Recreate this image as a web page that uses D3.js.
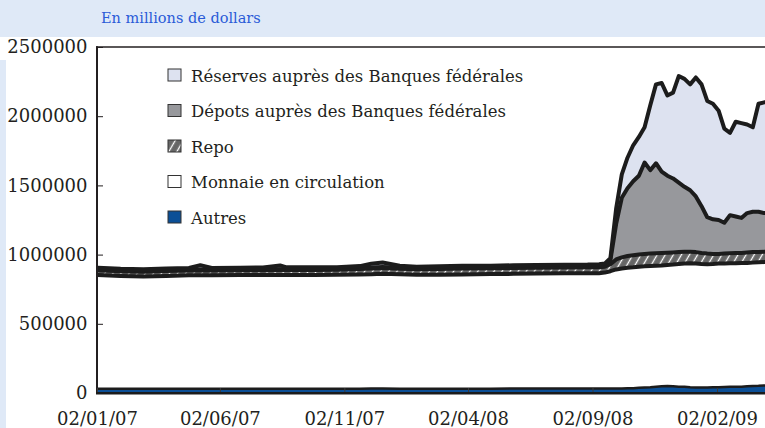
<!DOCTYPE html>
<html>
<head>
<meta charset="utf-8">
<script src="https://cdn.jsdelivr.net/npm/d3@7"></script>
<style>
body { margin: 0; background: #dfe9f7; }
svg { display: block; font-family: "DejaVu Serif", serif; }
</style>
</head>
<body>
<svg id="chart" width="765" height="428"></svg>
<script>

// weekly / monthly observations, values in thousands of millions of dollars
const dates = [
  "2007-01-03","2007-01-31","2007-02-28","2007-03-28","2007-04-25","2007-05-09","2007-05-23",
  "2007-06-27","2007-07-25","2007-08-15","2007-08-22","2007-09-26","2007-10-24","2007-11-21",
  "2007-12-05","2007-12-19","2008-01-09","2008-01-30","2008-02-27","2008-03-26","2008-04-30",
  "2008-05-28","2008-06-25","2008-07-30","2008-08-27","2008-09-10",
  "2008-09-17","2008-09-24","2008-10-01","2008-10-08","2008-10-15","2008-10-22","2008-10-29",
  "2008-11-05","2008-11-12","2008-11-19","2008-11-26","2008-12-03","2008-12-10","2008-12-17",
  "2008-12-24","2008-12-31","2009-01-07","2009-01-14","2009-01-21","2009-01-28","2009-02-04",
  "2009-02-11","2009-02-18","2009-02-25","2009-03-04","2009-03-11","2009-03-18","2009-03-25",
  "2009-04-01","2009-04-08"
];

const autres = [
  30,30,30,30,30,31,31,31,31,31,31,31,31,31,32,32,31,31,31,31,31,32,32,32,32,32,
  32,32,32,33,35,35,38,40,42,45,48,50,48,45,45,42,40,40,40,42,42,44,45,45,46,48,50,52,55,55
];

const monnaie = [
  822,816,812,816,820,820,820,821,821,822,822,822,823,825,826,830,827,823,824,826,828,829,831,833,834,834,
  838,848,861,867,870,873,874,875,876,875,874,875,880,887,891,896,896,892,890,890,893,891,892,893,894,892,892,892,891,893
];

const repo = [
  35,34,34,35,35,35,35,35,35,35,35,36,37,40,42,42,40,40,41,42,42,42,42,42,42,42,
  42,50,72,80,85,87,88,90,90,90,90,89,88,86,84,82,82,80,78,73,70,73,73,74,72,75,76,74,74,72
];

const depots = [
  6,6,7,6,7,7,6,6,7,6,7,6,6,7,6,7,7,6,7,6,6,7,6,7,6,7,
  8,30,255,430,490,535,570,660,602,650,588,556,534,502,470,445,402,338,262,250,245,222,275,263,253,285,292,292,280,280
];

const reserves = [
  12,11,12,12,12,30,12,12,13,28,14,13,12,14,28,32,14,12,13,14,12,13,14,12,14,16,
  15,15,110,170,220,260,280,255,470,570,640,580,620,770,780,765,860,880,840,835,790,680,595,685,685,640,610,780,800,800
];

const xTicks = ["2007-01-02","2007-06-02","2007-11-02","2008-04-02","2008-09-02","2009-02-02"];
const yTicks = [0, 500000, 1000000, 1500000, 2000000, 2500000];

const keys = ["autres", "monnaie", "repo", "depots", "reserves"];
const legendLabels = [
  "Réserves auprès des Banques fédérales",
  "Dépots auprès des Banques fédérales",
  "Repo",
  "Monnaie en circulation",
  "Autres"
];
const legendKeys = ["reserves", "depots", "repo", "monnaie", "autres"];

const fills = {
  autres: "#0b4f96",
  monnaie: "#ffffff",
  repo: "url(#hatch)",
  depots: "#97989c",
  reserves: "#dde2f0"
};

const serif = "'DejaVu Serif', serif";

const parse = d3.utcParse("%Y-%m-%d");

const table = dates.map((d, i) => ({
  date: parse(d),
  autres: autres[i] * 1000,
  monnaie: monnaie[i] * 1000,
  repo: repo[i] * 1000,
  depots: depots[i] * 1000,
  reserves: reserves[i] * 1000
}));

const svg = d3.select("#chart");

// background panels
svg.append("rect").attr("x", 0).attr("y", 0).attr("width", 765).attr("height", 428).attr("fill", "#dfe9f7");
svg.append("rect").attr("x", 0).attr("y", 37).attr("width", 765).attr("height", 391).attr("fill", "#ffffff");
svg.append("rect").attr("x", 0).attr("y", 60).attr("width", 6).attr("height", 368).attr("fill", "#dfe9f7");

svg.append("text")
  .attr("x", 101).attr("y", 23)
  .attr("font-size", 14.5)
  .attr("font-family", serif)
  .attr("fill", "#2a5bd7")
  .text("En millions de dollars");

const defs = svg.append("defs");
const pat = defs.append("pattern")
  .attr("id", "hatch")
  .attr("patternUnits", "userSpaceOnUse")
  .attr("width", 7).attr("height", 7)
  .attr("patternTransform", "rotate(30)");
pat.append("rect").attr("width", 7).attr("height", 7).attr("fill", "#666666");
pat.append("line").attr("x1", 3.5).attr("x2", 3.5).attr("y1", 0).attr("y2", 7)
  .attr("stroke", "#ffffff").attr("stroke-width", 1.3);

defs.append("clipPath").attr("id", "plotclip")
  .append("rect").attr("x", 97).attr("y", 40).attr("width", 700).attr("height", 360);

const x = d3.scaleUtc()
  .domain([parse("2007-01-02"), parse("2009-02-02")])
  .range([97, 717]);

const y = d3.scaleLinear()
  .domain([0, 2500000])
  .range([393, 47]);

const series = d3.stack().keys(keys)(table);

const area = d3.area()
  .x(d => x(d.data.date))
  .y0(d => y(d[0]))
  .y1(d => y(d[1]));

const topLine = d3.line()
  .x(d => x(d.data.date))
  .y(d => y(d[1]))
  .curve(d3.curveLinear);

const plot = svg.append("g").attr("clip-path", "url(#plotclip)");

plot.selectAll("path.layer")
  .data(series)
  .join("path")
  .attr("class", "layer")
  .attr("fill", s => fills[s.key])
  .attr("d", area);

plot.selectAll("path.edge")
  .data(series)
  .join("path")
  .attr("class", "edge")
  .attr("fill", "none")
  .attr("stroke", "#1c1c1c")
  .attr("stroke-width", s => s.key === "autres" ? 2.5 : 4)
  .attr("stroke-linejoin", "round")
  .attr("d", topLine);

// frame top
svg.append("line")
  .attr("x1", 96).attr("x2", 765).attr("y1", 47).attr("y2", 47)
  .attr("stroke", "#231f20").attr("stroke-width", 1.5);

// axes
const yAxis = d3.axisLeft(y)
  .tickValues(yTicks)
  .tickSize(-6)
  .tickPadding(9.5)
  .tickFormat(d3.format("d"));

const gy = svg.append("g").attr("transform", "translate(97,0)").call(yAxis)
  .attr("font-family", serif);
gy.select(".domain").remove();
gy.selectAll(".tick line").attr("stroke", "#231f20").attr("stroke-width", 1);
gy.selectAll("text").attr("font-size", 18).attr("fill", "#231f20");

svg.append("line")
  .attr("x1", 97).attr("x2", 97).attr("y1", 46.3).attr("y2", 394)
  .attr("stroke", "#231f20").attr("stroke-width", 2);

const xAxis = d3.axisBottom(x)
  .tickValues(xTicks.map(parse))
  .tickSize(-5)
  .tickPadding(19)
  .tickFormat(d3.utcFormat("%d/%m/%y"));

const gx = svg.append("g").attr("transform", "translate(0,393)").call(xAxis)
  .attr("font-family", serif);
gx.select(".domain").remove();
gx.selectAll(".tick line").attr("stroke", "#3a3a3a").attr("stroke-width", 1);
gx.selectAll("text").attr("font-size", 18).attr("fill", "#231f20");

svg.append("line")
  .attr("x1", 96).attr("x2", 765).attr("y1", 393.3).attr("y2", 393.3)
  .attr("stroke", "#1c1c1c").attr("stroke-width", 2.5);

// legend
const legend = svg.append("g").attr("font-family", serif);
const rows = legend.selectAll("g")
  .data(legendKeys)
  .join("g")
  .attr("transform", (k, i) => `translate(168,${75 + i * 35.5})`);

rows.append("rect")
  .attr("x", 0).attr("y", -6).attr("width", 13).attr("height", 12)
  .attr("fill", k => fills[k])
  .attr("stroke", "#333333").attr("stroke-width", 1);

rows.append("text")
  .attr("x", 23).attr("y", 6.5)
  .attr("font-size", 16.5)
  .attr("fill", "#231f20")
  .text((k, i) => legendLabels[i]);

</script>
</body>
</html>
